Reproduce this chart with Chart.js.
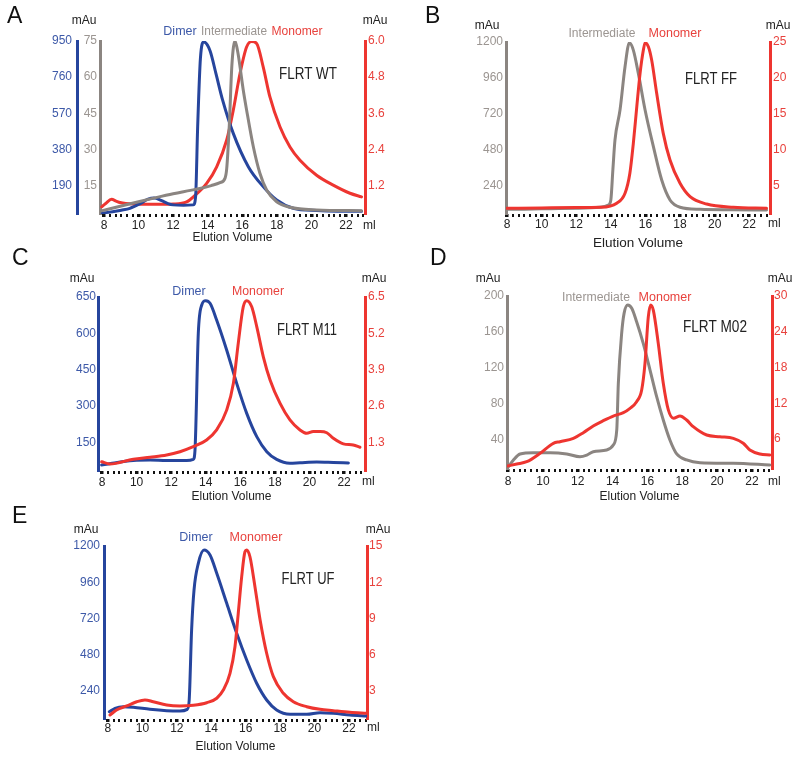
<!DOCTYPE html>
<html>
<head>
<meta charset="utf-8">
<script src="https://cdn.jsdelivr.net/npm/chart.js@4.4.1/dist/chart.umd.min.js"></script>
<style>
  body { margin: 0; background: #fff; }
  #fig { position: relative; width: 800px; height: 759px; background: #fff; }
  #fig canvas { position: absolute; }
</style>
</head>
<body>
<div id="fig">
  <canvas id="panelA" width="400" height="250" style="left:0px;top:0px"></canvas>
  <canvas id="panelB" width="400" height="250" style="left:400px;top:0px"></canvas>
  <canvas id="panelC" width="400" height="267" style="left:0px;top:238px"></canvas>
  <canvas id="panelD" width="400" height="267" style="left:400px;top:238px"></canvas>
  <canvas id="panelE" width="400" height="259" style="left:0px;top:500px"></canvas>
</div>
<script>
// elution volume (ml) / absorbance (mAu) pairs

// A - FLRT WT
const wtDimer = [[7.9,45],[8.5,52],[9.0,60],[9.5,70],[10.1,95],[10.55,118],[10.9,124],[11.3,112],[11.7,95],[12.0,88],[12.6,86],[13.17,88],[13.3,130],[13.42,500],[13.58,860],[13.78,945],[14.13,900],[14.5,770],[14.86,640],[15.48,464],[16.35,289],[17.21,184],[17.99,114],[18.95,70],[20.3,58],[21.5,55],[22.9,55]];
const wtInter = [[7.85,4.5],[9.0,6.5],[10.0,8.3],[11.0,10.0],[12.0,11.6],[13.0,13.0],[13.55,13.8],[14.2,15.0],[14.71,16.2],[15.0,18],[15.1,22],[15.25,40],[15.4,65],[15.58,75],[15.75,70],[15.87,64.3],[16.05,55],[16.25,46.4],[16.64,31.1],[17.02,20.1],[17.41,13.2],[17.99,8.3],[18.76,6.0],[20.3,4.9],[22.9,4.6]];
const wtMono = [[7.87,0.49],[8.1,0.6],[8.44,0.74],[8.7,0.68],[8.93,0.63],[9.7,0.58],[11.0,0.57],[12.0,0.58],[12.78,0.65],[13.17,0.82],[13.94,1.27],[14.52,1.82],[15.1,2.71],[15.48,3.7],[15.87,4.92],[16.25,5.8],[16.54,5.98],[16.83,5.92],[17.21,5.14],[17.6,4.14],[18.18,3.15],[18.76,2.48],[19.34,2.04],[20.3,1.54],[21.26,1.21],[22.23,0.94],[22.9,0.82]];

// B - FLRT FF
const ffInter = [[7.98,81],[9.0,82],[10.0,85],[11.0,86],[12.0,88],[13.38,95],[13.86,110],[14.0,144],[14.12,350],[14.24,545],[14.53,745],[14.82,1035],[15.07,1195],[15.3,1146],[15.59,990],[15.98,745],[16.46,500],[16.94,277],[17.42,144],[18.0,95],[19.16,81],[21.0,78],[23.0,77]];
const ffMono = [[7.98,1.84],[10.0,1.9],[12.0,1.95],[13.38,1.98],[14.34,2.54],[14.82,3.93],[15.1,6.72],[15.3,10.89],[15.5,15.99],[15.69,20.64],[15.88,23.88],[15.98,24.9],[16.17,24.34],[16.36,22.49],[16.65,17.85],[17.03,12.28],[17.42,8.57],[18.0,5.32],[18.58,3.46],[19.54,2.44],[21.08,1.98],[23.0,1.84]];

// C - FLRT M11
const m11Dimer = [[7.98,56],[8.5,62],[9.81,74],[10.78,76],[11.74,74],[12.9,74],[13.28,79],[13.38,118],[13.57,600],[13.77,717],[14.0,735],[14.25,724],[14.63,655],[15.21,531],[15.79,393],[16.37,269],[16.95,173],[17.53,111],[18.1,79],[18.87,63],[19.45,65],[20.42,68],[21.38,66],[22.25,64]];
const m11Mono = [[7.98,0.6],[8.46,0.52],[9.81,0.69],[10.78,0.76],[11.74,0.84],[12.51,0.96],[13.28,1.14],[14.05,1.38],[14.63,1.74],[15.21,2.45],[15.6,3.41],[15.88,4.84],[16.17,6.15],[16.37,6.37],[16.66,6.15],[16.95,5.44],[17.33,4.36],[17.72,3.53],[18.3,2.69],[18.87,2.1],[19.45,1.74],[19.84,1.62],[20.22,1.68],[20.61,1.68],[21.0,1.64],[21.38,1.44],[21.96,1.24],[22.53,1.2],[22.92,1.12]];

// D - FLRT M02
const m02Inter = [[7.96,7.5],[8.31,16.8],[8.69,23.5],[9.45,24.9],[10.41,24.9],[11.37,23.5],[12.13,20.4],[12.52,22.3],[12.89,26.0],[13.66,27.9],[14.04,33.5],[14.24,50.3],[14.33,102.4],[14.52,158],[14.66,180.6],[14.87,189.9],[15.1,186.2],[15.38,171.2],[15.76,147.1],[16.15,117.3],[16.53,87.5],[16.91,61.4],[17.29,39.1],[17.68,23.5],[18.25,16.8],[19.02,13.7],[20.93,13.1],[23.03,11.2]];
const m02Mono = [[7.96,1.5],[8.5,1.84],[9.07,2.22],[9.84,3.63],[10.6,5.31],[10.98,5.58],[11.75,6.14],[12.32,7.09],[12.89,8.21],[13.47,9.1],[14.04,9.88],[14.62,10.44],[15.0,11.17],[15.38,12.28],[15.67,14.24],[15.86,18.7],[16.05,26.5],[16.19,28.5],[16.34,27.6],[16.62,22.1],[16.91,15.36],[17.2,10.9],[17.49,9.5],[17.87,9.88],[18.25,9.21],[18.63,8.09],[19.4,6.7],[20.16,6.41],[20.93,6.14],[21.5,5.31],[21.88,4.18],[22.46,3.51],[23.03,3.35]];

// E - FLRT UF
const ufDimer = [[8.08,101],[8.41,124],[8.89,135],[9.47,131],[10.44,117],[11.41,108],[12.18,106],[12.61,117],[12.72,179],[12.86,643],[13.0,908],[13.25,1085],[13.58,1173],[13.93,1140],[14.32,1019],[14.9,820],[15.48,621],[16.06,444],[16.64,290],[17.22,179],[17.8,113],[18.58,84],[19.55,84],[20.32,95],[21.09,91],[22.06,80],[23.03,73]];
const ufMono = [[8.12,0.99],[8.5,1.41],[9.09,1.74],[9.67,2.09],[10.15,2.24],[10.63,2.09],[11.41,1.82],[12.18,1.74],[12.96,1.8],[13.74,2.01],[14.32,2.38],[14.7,3.06],[15.09,4.45],[15.38,6.65],[15.57,9.42],[15.77,12.46],[15.96,14.53],[16.06,14.67],[16.25,14.11],[16.54,11.63],[16.84,8.87],[17.22,6.11],[17.61,4.17],[18.19,2.79],[18.77,2.09],[19.55,1.68],[20.32,1.46],[21.09,1.35],[22.06,1.22],[23.03,1.13]];

// tick labels
const xTickLabels = [8, 10, 12, 14, 16, 18, 20, 22];
const wtBlueTicks = [190, 380, 570, 760, 950];
const wtGrayTicks = [15, 30, 45, 60, 75];
const wtRedTicks = [1.2, 2.4, 3.6, 4.8, 6.0];
const ffGrayTicks = [240, 480, 720, 960, 1200];
const ffRedTicks = [5, 10, 15, 20, 25];
const m11BlueTicks = [150, 300, 450, 600, 750];
const m11BlueLabels = ['150', '300', '450', '600', '650'];
const m11RedTicks = [1.3, 2.6, 3.9, 5.2, 6.5];
const m02GrayTicks = [40, 80, 120, 160, 200];
const m02RedTicks = [6, 12, 18, 24, 30];
const ufBlueTicks = [240, 480, 720, 960, 1200];
const ufRedTicks = [3, 6, 9, 12, 15];

const FONT = "'Liberation Sans', Arial, Helvetica, sans-serif";
Chart.defaults.font.family = FONT;
Chart.defaults.font.size = 12;
Chart.defaults.color = '#222';

const BLUE = '#26459d', BLUE_TXT = '#3d59a8';
const GRAY = '#8b8581', GRAY_TXT = '#9b9591';
const RED = '#ee3530', RED_TXT = '#e8423d';

// fraction collector marks along the bottom, every 1/3 ml
const fractionMarks = [];
for (let k = 0; k <= 45; k++) fractionMarks.push(8 + k / 3);

function isWholeLabel(v) {
  const r = Math.round(v);
  return Math.abs(v - r) < 1e-6 && xTickLabels.includes(r);
}

const panelText = {
  id: 'panelText',
  afterDraw(chart, args, opts) {
    const ctx = chart.ctx;
    const oy = opts.oy || 0;
    (opts.items || []).forEach(it => {
      ctx.save();
      ctx.font = (it.size || 12) + 'px ' + FONT;
      ctx.fillStyle = it.color || '#222';
      ctx.textAlign = it.align || 'center';
      ctx.textBaseline = 'middle';
      if (it.maxW) ctx.fillText(it.text, it.x, it.y + oy, it.maxW);
      else ctx.fillText(it.text, it.x, it.y + oy);
      ctx.restore();
    });
  }
};

// p.oy shifts every vertical coordinate when the canvas starts above its panel
function buildPanel(id, p) {
  const canvas = document.getElementById(id);
  const W = canvas.width, H = canvas.height;
  const oy = p.oy || 0;
  const top = p.area.t + oy, bottom = p.area.b + oy;
  const lh = p.titleSize * 1.2;
  const xHeight = p.titleY + oy + lh / 2 - bottom;
  const leftW = p.axes.filter(a => a.side === 'left').reduce((s, a) => s + a.width, 0);
  const rightW = p.axes.filter(a => a.side === 'right').reduce((s, a) => s + a.width, 0);

  const scales = {
    x: {
      type: 'linear',
      min: p.xMin,
      max: p.xMax,
      afterBuildTicks: ax => { ax.ticks = fractionMarks.map(v => ({ value: v })); },
      afterFit: ax => { ax.height = xHeight; },
      ticks: {
        autoSkip: false,
        maxRotation: 0,
        padding: p.xTickPad,
        color: '#222',
        font: { size: 12 },
        callback: v => (isWholeLabel(v) ? String(Math.round(v)) : '')
      },
      grid: {
        display: true,
        drawOnChartArea: false,
        drawTicks: true,
        tickLength: 3,
        color: '#111',
        lineWidth: c => (c.tick && isWholeLabel(c.tick.value) ? 3.5 : 2)
      },
      border: { display: false },
      title: {
        display: true,
        text: 'Elution Volume',
        color: '#222',
        font: { size: p.titleSize },
        padding: 0
      }
    }
  };

  p.axes.forEach(a => {
    scales[a.id] = {
      type: 'linear',
      axis: 'y',
      position: a.side,
      weight: a.weight || 0,
      min: a.min,
      max: a.max,
      afterBuildTicks: ax => { ax.ticks = a.ticks.map(v => ({ value: v })); },
      afterFit: ax => { ax.width = a.width; },
      ticks: {
        color: a.text,
        padding: a.pad,
        font: { size: 12 },
        callback: (v, i) => (a.labels ? a.labels[i] : String(a.ticks[i]))
      },
      grid: { display: false, drawTicks: false },
      border: { display: true, color: a.line, width: 3 }
    };
  });

  return new Chart(canvas, {
    type: 'line',
    data: {
      datasets: p.series.map(s => ({
        data: s.data,
        yAxisID: s.axis,
        borderColor: s.color,
        borderWidth: 3,
        pointRadius: 0,
        fill: false,
        cubicInterpolationMode: 'monotone',
        borderCapStyle: 'round',
        borderJoinStyle: 'round'
      }))
    },
    options: {
      responsive: false,
      animation: false,
      events: [],
      layout: {
        padding: {
          left: p.area.l - leftW,
          right: W - p.area.r - rightW,
          top: top,
          bottom: H - bottom - xHeight
        }
      },
      scales: scales,
      plugins: {
        legend: { display: false },
        tooltip: { enabled: false },
        panelText: { items: p.texts, oy: oy }
      }
    },
    plugins: [panelText]
  });
}

// A
buildPanel('panelA', {
  area: { l: 100, r: 365, t: 41, b: 214 },
  xMin: 7.77, xMax: 23.1, xTickPad: 1, titleY: 238, titleSize: 12,
  axes: [
    { id: 'gray', side: 'left', weight: 0, width: 23, pad: 3, min: 3.2, max: 75, ticks: wtGrayTicks, line: GRAY, text: GRAY_TXT },
    { id: 'blue', side: 'left', weight: 1, width: 30, pad: 5, min: 40, max: 950, ticks: wtBlueTicks, line: BLUE, text: BLUE_TXT },
    { id: 'red', side: 'right', width: 30, pad: 3, min: 0.25, max: 6.0, ticks: wtRedTicks, labels: wtRedTicks.map(v => v.toFixed(1)), line: RED, text: RED_TXT }
  ],
  series: [
    { data: wtInter, axis: 'gray', color: GRAY },
    { data: wtDimer, axis: 'blue', color: BLUE },
    { data: wtMono, axis: 'red', color: RED }
  ],
  texts: [
    { text: 'A', x: 7, y: 17, size: 23, align: 'left', color: '#111' },
    { text: 'mAu', x: 84, y: 21 },
    { text: 'mAu', x: 375, y: 21 },
    { text: 'Dimer', x: 180, y: 32, size: 12.5, color: BLUE_TXT },
    { text: 'Intermediate', x: 234, y: 32, size: 12.5, color: GRAY_TXT, maxW: 66 },
    { text: 'Monomer', x: 297, y: 32, size: 12.5, color: RED_TXT, maxW: 51 },
    { text: 'FLRT WT', x: 308, y: 75, size: 16, maxW: 58 },
    { text: 'ml', x: 363, y: 226, align: 'left' }
  ]
});

// B
buildPanel('panelB', {
  area: { l: 106, r: 370, t: 42, b: 214 },
  xMin: 7.94, xMax: 23.2, xTickPad: 0, titleY: 243, titleSize: 13.5,
  axes: [
    { id: 'gray', side: 'left', width: 40, pad: 3, min: 50, max: 1200, ticks: ffGrayTicks, line: GRAY, text: GRAY_TXT },
    { id: 'red', side: 'right', width: 25, pad: 3, min: 1.05, max: 25, ticks: ffRedTicks, line: RED, text: RED_TXT }
  ],
  series: [
    { data: ffMono, axis: 'red', color: RED },
    { data: ffInter, axis: 'gray', color: GRAY }
  ],
  texts: [
    { text: 'B', x: 25, y: 17, size: 23, align: 'left', color: '#111' },
    { text: 'mAu', x: 87, y: 26 },
    { text: 'mAu', x: 378, y: 26 },
    { text: 'Intermediate', x: 202, y: 34, size: 12.5, color: GRAY_TXT, maxW: 67 },
    { text: 'Monomer', x: 275, y: 34, size: 12.5, color: RED_TXT, maxW: 53 },
    { text: 'FLRT FF', x: 311, y: 80, size: 16, maxW: 52 },
    { text: 'ml', x: 368, y: 224, align: 'left' }
  ]
});

// C  (canvas starts 12px above the panel)
buildPanel('panelC', {
  oy: 12,
  area: { l: 98, r: 365, t: 47, b: 221 },
  xMin: 7.77, xMax: 23.21, xTickPad: 1, titleY: 247, titleSize: 12,
  axes: [
    { id: 'blue', side: 'left', width: 30, pad: 2, min: 31, max: 750, ticks: m11BlueTicks, labels: m11BlueLabels, line: BLUE, text: BLUE_TXT },
    { id: 'red', side: 'right', width: 30, pad: 3, min: 0.27, max: 6.5, ticks: m11RedTicks, line: RED, text: RED_TXT }
  ],
  series: [
    { data: m11Mono, axis: 'red', color: RED },
    { data: m11Dimer, axis: 'blue', color: BLUE }
  ],
  texts: [
    { text: 'C', x: 12, y: 9, size: 23, align: 'left', color: '#111' },
    { text: 'mAu', x: 82, y: 29 },
    { text: 'mAu', x: 374, y: 29 },
    { text: 'Dimer', x: 189, y: 42, size: 12.5, color: BLUE_TXT },
    { text: 'Monomer', x: 258, y: 42, size: 12.5, color: RED_TXT, maxW: 52 },
    { text: 'FLRT M11', x: 307, y: 81, size: 16, maxW: 60 },
    { text: 'ml', x: 362, y: 232, align: 'left' }
  ]
});

// D  (canvas starts 12px above the panel)
buildPanel('panelD', {
  oy: 12,
  area: { l: 107, r: 372, t: 46, b: 219 },
  xMin: 7.94, xMax: 23.15, xTickPad: 2, titleY: 247, titleSize: 12,
  axes: [
    { id: 'gray', side: 'left', width: 40, pad: 3, min: 6.7, max: 200, ticks: m02GrayTicks, line: GRAY, text: GRAY_TXT },
    { id: 'red', side: 'right', width: 25, pad: 2, min: 1.0, max: 30, ticks: m02RedTicks, line: RED, text: RED_TXT }
  ],
  series: [
    { data: m02Mono, axis: 'red', color: RED },
    { data: m02Inter, axis: 'gray', color: GRAY }
  ],
  texts: [
    { text: 'D', x: 30, y: 9, size: 23, align: 'left', color: '#111' },
    { text: 'mAu', x: 88, y: 29 },
    { text: 'mAu', x: 380, y: 29 },
    { text: 'Intermediate', x: 196, y: 48, size: 12.5, color: GRAY_TXT, maxW: 68 },
    { text: 'Monomer', x: 265, y: 48, size: 12.5, color: RED_TXT, maxW: 53 },
    { text: 'FLRT M02', x: 315, y: 78, size: 16, maxW: 64 },
    { text: 'ml', x: 368, y: 232, align: 'left' }
  ]
});

// E
buildPanel('panelE', {
  area: { l: 104, r: 367, t: 46, b: 219 },
  xMin: 7.77, xMax: 23.05, xTickPad: -1, titleY: 247, titleSize: 12,
  axes: [
    { id: 'blue', side: 'left', width: 40, pad: 4, min: 53, max: 1200, ticks: ufBlueTicks, line: BLUE, text: BLUE_TXT },
    { id: 'red', side: 'right', width: 25, pad: 2, min: 0.66, max: 15, ticks: ufRedTicks, line: RED, text: RED_TXT }
  ],
  series: [
    { data: ufMono, axis: 'red', color: RED },
    { data: ufDimer, axis: 'blue', color: BLUE }
  ],
  texts: [
    { text: 'E', x: 12, y: 17, size: 23, align: 'left', color: '#111' },
    { text: 'mAu', x: 86, y: 30 },
    { text: 'mAu', x: 378, y: 30 },
    { text: 'Dimer', x: 196, y: 38, size: 12.5, color: BLUE_TXT },
    { text: 'Monomer', x: 256, y: 38, size: 12.5, color: RED_TXT, maxW: 53 },
    { text: 'FLRT UF', x: 308, y: 80, size: 16, maxW: 53 },
    { text: 'ml', x: 367, y: 228, align: 'left' }
  ]
});
</script>
</body>
</html>
